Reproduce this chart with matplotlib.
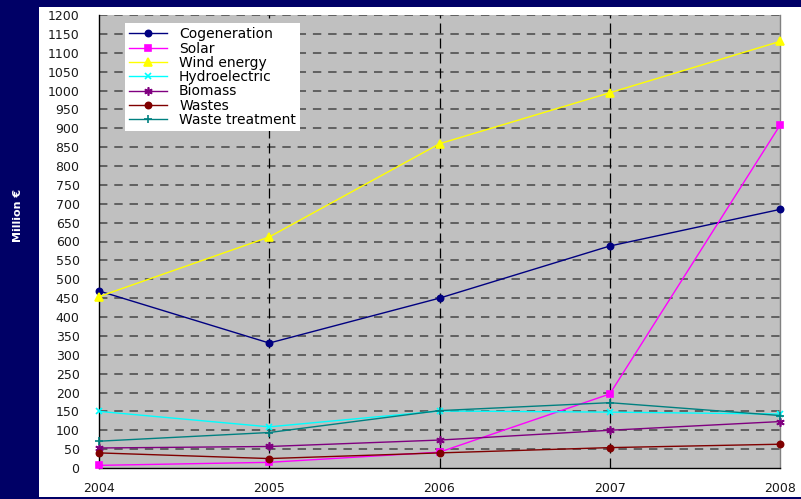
import matplotlib
matplotlib.use("Agg")
import matplotlib.pyplot as plt

years = ['2004', '2005', '2006', '2007', '2008']
cogeneration = [469, 331, 450, 588, 685]
solar = [7, 15, 42, 196, 908]
wind = [454, 612, 859, 994, 1130]
hydroelectric = [150, 109, 151, 148, 143]
biomass = [53, 57, 74, 100, 123]
wastes = [40, 25, 40, 54, 63]
waste_treatment = [71, 94, 152, 173, 139]

series = [
    ('Cogeneration', cogeneration, '#000080', 'o', 4.5),
    ('Solar', solar, '#FF00FF', 's', 4.5),
    ('Wind energy', wind, '#FFFF00', '^', 5.5),
    ('Hydroelectric', hydroelectric, '#00FFFF', 'x', 5),
    ('Biomass', biomass, '#800080', (6, 2, 0), 6),
    ('Wastes', wastes, '#800000', 'o', 4.5),
    ('Waste treatment', waste_treatment, '#008080', '+', 6),
]

plt.rcParams['font.family'] = ['DejaVu Sans']

fig = plt.figure(figsize=(8.01, 4.99), dpi=100)
fig.patch.set_facecolor('#000066')
W, H = 801, 499

bg = fig.add_axes([39 / W, 2 / H, 762 / W, 490 / H], zorder=0)
bg.set_facecolor('white')
bg.set_xticks([])
bg.set_yticks([])
for s in bg.spines.values():
    s.set_visible(False)

ax = fig.add_axes([99 / W, (H - 468) / H, 681 / W, 453 / H], zorder=1)
ax.set_facecolor('#C0C0C0')

x = list(range(len(years)))
for name, vals, col, mk, ms in series:
    ax.plot(x, vals, color=col, marker=mk, markersize=ms, linewidth=1.0,
            markeredgewidth=1.2, label=name, zorder=3, clip_on=False)

ax.set_xlim(0, len(years) - 1)
ax.set_ylim(0, 1200)
ax.set_yticks(range(0, 1201, 50))
ax.set_xticks(x)
ax.set_xticklabels(years)

for yv in range(50, 1201, 50):
    ax.axhline(yv, color='#464646', linewidth=1.1, linestyle=(0, (5.5, 4.5)), zorder=1)
for xv in x[1:-1]:
    ax.axvline(xv, color='black', linewidth=0.9, linestyle=(0, (8, 4)), zorder=1)

ax.spines['top'].set_visible(False)
ax.spines['right'].set_color('#808080')
ax.spines['left'].set_color('black')
ax.spines['bottom'].set_color('black')
for s in ax.spines.values():
    s.set_linewidth(1.0)

ax.tick_params(axis='both', length=0, labelsize=9, colors='#1a1a1a')
ax.tick_params(axis='y', pad=14)
ax.tick_params(axis='x', pad=10)

leg = ax.legend(loc='upper left', bbox_to_anchor=(0.038, 0.982), borderaxespad=0,
                fontsize=10, frameon=True, fancybox=False, labelspacing=0.02,
                handlelength=2.7, handletextpad=0.9, borderpad=0.3)
leg.get_frame().set_facecolor('white')
leg.get_frame().set_edgecolor('none')
leg.get_frame().set_alpha(1)

fig.text(18 / W, (H - 215) / H, 'Million €', rotation=90, color='white',
         fontsize=8, fontweight='bold', ha='center', va='center')

fig.savefig('out.png', dpi=100, facecolor=fig.get_facecolor())
